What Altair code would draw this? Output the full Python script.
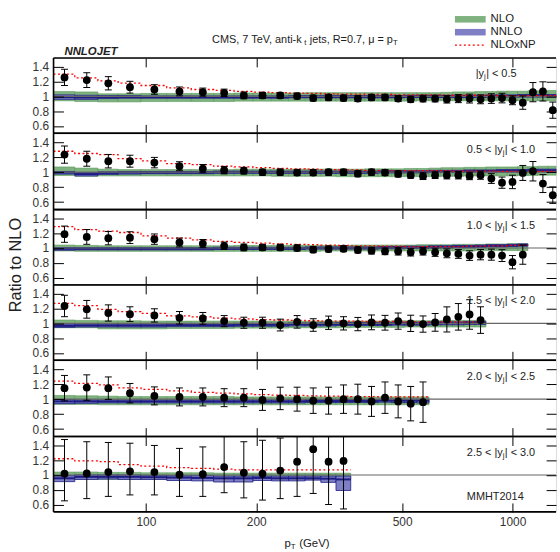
import altair as alt
import pandas as pd

# ---------------- data ----------------
EDGES = [56, 64, 74, 84, 97, 114, 133, 153, 174, 196, 220, 245, 272, 300, 330, 362, 395,
         430, 468, 507, 548, 592, 638, 686, 737, 790, 846, 905, 967, 1032, 1101, 1172,
         1248, 1327]

RAP = [("", "0.5"), ("0.5", "1.0"), ("1.0", "1.5"), ("1.5", "2.0"), ("2.0", "2.5"), ("2.5", "3.0")]

DATA1 = [1.257, 1.22, 1.177, 1.124, 1.093, 1.067, 1.057, 1.048, 1.013, 1.013,
         1.013, 1.004, 0.977, 0.986, 0.977, 0.97, 0.986, 0.986, 0.97, 0.96,
         0.97, 0.97, 0.96, 0.97, 0.97, 0.96, 0.97, 0.977, 0.947, 0.915,
         1.057, 1.067, 0.813]
ERR1 = [0.11, 0.10, 0.09, 0.08, 0.065, 0.06, 0.055, 0.05, 0.045, 0.04,
        0.04, 0.04, 0.04, 0.04, 0.04, 0.04, 0.04, 0.04, 0.04, 0.04,
        0.045, 0.045, 0.05, 0.055, 0.06, 0.06, 0.065, 0.065, 0.06, 0.09,
        0.13, 0.13, 0.11]
NP1 = [1.30, 1.25, 1.21, 1.18, 1.147, 1.115, 1.093, 1.08, 1.067, 1.057,
       1.05, 1.045, 1.04, 1.035, 1.03, 1.03, 1.025, 1.025, 1.02, 1.02,
       1.02, 1.02, 1.015, 1.015, 1.015, 1.015, 1.015, 1.01, 1.01, 1.01,
       1.01, 1.01, 1.01]
NLO_LO1 = [0.94, 0.93, 0.925, 0.925, 0.93, 0.93, 0.93, 0.93, 0.935, 0.935,
           0.935, 0.935, 0.935, 0.935, 0.935, 0.935, 0.935, 0.935, 0.935, 0.935,
           0.94, 0.94, 0.94, 0.94, 0.94, 0.94, 0.94, 0.94, 0.94, 0.94,
           0.94, 0.94, 0.94]
NLO_HI1 = [1.065, 1.06, 1.035, 1.035, 1.04, 1.04, 1.04, 1.04, 1.045, 1.045,
           1.045, 1.045, 1.05, 1.05, 1.05, 1.05, 1.05, 1.05, 1.05, 1.05,
           1.05, 1.05, 1.055, 1.06, 1.06, 1.065, 1.065, 1.07, 1.07, 1.07,
           1.075, 1.075, 1.08]
NNLO_C1 = [0.99, 0.985, 0.99, 0.99, 0.99, 0.99, 0.99, 0.99, 0.99, 0.99,
           0.99, 0.995, 0.995, 0.995, 0.995, 0.995, 0.995, 0.995, 0.995, 1.0,
           1.0, 1.0, 1.0, 1.0, 1.0, 1.0, 1.005, 1.005, 1.005, 1.01,
           1.01, 1.01, 1.01]
NNLO_LO1 = [0.96, 0.96, 0.97, 0.975, 0.975, 0.975, 0.975, 0.975, 0.975, 0.975,
            0.975, 0.98, 0.98, 0.98, 0.98, 0.98, 0.98, 0.98, 0.98, 0.985,
            0.985, 0.985, 0.985, 0.985, 0.985, 0.985, 0.99, 0.99, 0.99, 0.99,
            0.99, 0.99, 0.99]
NNLO_HI1 = [1.02, 1.015, 1.01, 1.01, 1.005, 1.005, 1.005, 1.005, 1.005, 1.005,
            1.005, 1.01, 1.01, 1.01, 1.01, 1.01, 1.01, 1.01, 1.01, 1.015,
            1.015, 1.015, 1.015, 1.015, 1.015, 1.015, 1.02, 1.02, 1.02, 1.025,
            1.025, 1.025, 1.025]

DATA2 = [1.235, 1.18, 1.147, 1.147, 1.128, 1.08, 1.048, 1.027, 1.02, 1.0,
         1.0, 0.995, 0.995, 1.0, 1.0, 0.98, 1.0, 0.995, 0.977, 0.96,
         0.947, 0.96, 0.96, 0.96, 0.95, 0.96, 0.915, 0.86, 0.87, 0.99,
         1.013, 0.848, 0.693]
ERR2 = [0.115, 0.10, 0.09, 0.08, 0.07, 0.06, 0.055, 0.05, 0.045, 0.04,
        0.04, 0.04, 0.04, 0.04, 0.04, 0.04, 0.04, 0.04, 0.04, 0.04,
        0.045, 0.045, 0.05, 0.05, 0.05, 0.055, 0.065, 0.075, 0.09, 0.10,
        0.13, 0.12, 0.11]
NP2 = [1.28, 1.25, 1.235, 1.18, 1.15, 1.115, 1.10, 1.08, 1.07, 1.06,
       1.05, 1.045, 1.04, 1.035, 1.03, 1.03, 1.025, 1.025, 1.02, 1.02,
       1.02, 1.02, 1.02, 1.015, 1.015, 1.015, 1.015, 1.01, 1.01, 1.01,
       1.01, 1.01, 1.01]
NLO_LO2 = [0.955, 0.945, 0.95, 0.95, 0.95, 0.95, 0.95, 0.95, 0.95, 0.95,
           0.945, 0.945, 0.945, 0.945, 0.94, 0.94, 0.94, 0.94, 0.94, 0.94,
           0.94, 0.94, 0.945, 0.945, 0.95, 0.95, 0.95, 0.95, 0.95, 0.955,
           0.955, 0.96, 0.96]
NLO_HI2 = [1.07, 1.055, 1.04, 1.035, 1.035, 1.035, 1.035, 1.035, 1.04, 1.04,
           1.04, 1.04, 1.04, 1.04, 1.04, 1.04, 1.045, 1.045, 1.045, 1.05,
           1.05, 1.055, 1.06, 1.06, 1.065, 1.065, 1.07, 1.07, 1.07, 1.075,
           1.075, 1.08, 1.08]
NNLO_C2 = [0.995, 0.975, 0.99, 0.995, 0.995, 0.995, 0.995, 1.0, 1.0, 1.0,
           1.0, 1.0, 1.0, 1.0, 1.0, 1.0, 1.0, 1.005, 1.005, 1.005,
           1.005, 1.01, 1.01, 1.01, 1.015, 1.015, 1.015, 1.02, 1.02, 1.02,
           1.025, 1.025, 1.025]
NNLO_LO2 = [0.975, 0.95, 0.97, 0.975, 0.98, 0.98, 0.98, 0.985, 0.985, 0.985,
            0.985, 0.985, 0.985, 0.985, 0.985, 0.985, 0.985, 0.99, 0.99, 0.99,
            0.99, 0.995, 0.995, 0.995, 1.0, 1.0, 1.0, 1.0, 1.0, 1.0,
            1.005, 1.005, 1.005]
NNLO_HI2 = [1.01, 0.995, 1.005, 1.01, 1.01, 1.01, 1.01, 1.015, 1.015, 1.015,
            1.015, 1.015, 1.015, 1.015, 1.015, 1.015, 1.015, 1.02, 1.02, 1.02,
            1.02, 1.025, 1.025, 1.025, 1.03, 1.03, 1.03, 1.035, 1.035, 1.035,
            1.04, 1.04, 1.04]

DATA3 = [1.187, 1.15, 1.133, 1.14, 1.12, 1.075, 1.06, 1.03, 1.008, 1.008,
         1.008, 1.0, 0.977, 0.986, 0.99, 0.973, 0.964, 0.955, 0.955, 0.942,
         0.955, 0.942, 0.928, 0.92, 0.897, 0.91, 0.91, 0.897, 0.808, 0.91]
ERR3 = [0.11, 0.10, 0.09, 0.08, 0.07, 0.06, 0.055, 0.05, 0.045, 0.04,
        0.04, 0.04, 0.04, 0.04, 0.04, 0.04, 0.045, 0.045, 0.05, 0.05,
        0.05, 0.055, 0.06, 0.06, 0.065, 0.07, 0.075, 0.08, 0.09, 0.13]
NP3 = [1.29, 1.25, 1.23, 1.21, 1.165, 1.135, 1.11, 1.09, 1.075, 1.065,
       1.055, 1.05, 1.045, 1.04, 1.035, 1.03, 1.03, 1.025, 1.025, 1.02,
       1.02, 1.02, 1.02, 1.02, 1.025, 1.025, 1.03, 1.03, 1.035, 1.04]
NLO_LO3 = [0.96, 0.955, 0.955, 0.955, 0.955, 0.955, 0.955, 0.955, 0.955, 0.955,
           0.955, 0.955, 0.955, 0.96, 0.96, 0.96, 0.96, 0.96, 0.96, 0.96,
           0.96, 0.96, 0.96, 0.96, 0.96, 0.965, 0.965, 0.965, 0.965, 0.965]
NLO_HI3 = [1.04, 1.035, 1.03, 1.03, 1.03, 1.03, 1.03, 1.03, 1.035, 1.035,
           1.035, 1.035, 1.035, 1.035, 1.035, 1.04, 1.04, 1.04, 1.04, 1.04,
           1.045, 1.045, 1.045, 1.05, 1.05, 1.05, 1.055, 1.055, 1.06, 1.06]
NNLO_C3 = [0.99, 0.99, 0.99, 0.99, 0.99, 0.99, 0.99, 0.995, 0.995, 0.995,
           0.995, 0.995, 1.0, 1.0, 1.0, 1.0, 1.0, 1.005, 1.005, 1.01,
           1.01, 1.015, 1.015, 1.02, 1.02, 1.025, 1.03, 1.03, 1.035, 1.04]
NNLO_LO3 = [0.97, 0.975, 0.975, 0.975, 0.975, 0.975, 0.975, 0.98, 0.98, 0.98,
            0.98, 0.98, 0.985, 0.985, 0.985, 0.985, 0.985, 0.99, 0.99, 0.995,
            0.995, 1.0, 1.0, 1.005, 1.005, 1.01, 1.015, 1.015, 1.02, 1.025]
NNLO_HI3 = [1.005, 1.005, 1.005, 1.005, 1.005, 1.005, 1.005, 1.01, 1.01, 1.01,
            1.01, 1.01, 1.015, 1.015, 1.015, 1.015, 1.015, 1.02, 1.02, 1.025,
            1.025, 1.03, 1.03, 1.035, 1.035, 1.04, 1.045, 1.045, 1.05, 1.055]

DATA4 = [1.235, 1.19, 1.14, 1.124, 1.107, 1.075, 1.067, 1.03, 1.008, 1.008,
         0.977, 1.02, 0.977, 1.008, 1.0, 0.99, 1.013, 1.008, 1.03, 1.0,
         0.99, 1.013, 1.053, 1.088, 1.12, 1.044]
ERR4 = [0.145, 0.12, 0.11, 0.10, 0.09, 0.085, 0.08, 0.075, 0.075, 0.075,
        0.08, 0.085, 0.085, 0.09, 0.09, 0.09, 0.10, 0.10, 0.11, 0.11,
        0.11, 0.12, 0.17, 0.18, 0.20, 0.18]
NP4 = [1.27, 1.24, 1.19, 1.16, 1.135, 1.10, 1.087, 1.07, 1.06, 1.05,
       1.045, 1.04, 1.035, 1.03, 1.03, 1.03, 1.025, 1.025, 1.025, 1.02,
       1.02, 1.02, 1.02, 1.02, 1.02, 1.02]
NLO_LO4 = [0.94, 0.94, 0.925, 0.925, 0.925, 0.93, 0.93, 0.93, 0.935, 0.935,
           0.935, 0.94, 0.94, 0.94, 0.94, 0.945, 0.945, 0.945, 0.945, 0.95,
           0.95, 0.95, 0.95, 0.95, 0.95, 0.95]
NLO_HI4 = [1.045, 1.04, 1.035, 1.035, 1.03, 1.03, 1.03, 1.03, 1.03, 1.03,
           1.03, 1.03, 1.03, 1.03, 1.03, 1.03, 1.03, 1.03, 1.035, 1.035,
           1.035, 1.035, 1.04, 1.04, 1.04, 1.04]
NNLO_C4 = [0.965, 0.97, 0.97, 0.97, 0.97, 0.975, 0.975, 0.975, 0.98, 0.98,
           0.98, 0.985, 0.985, 0.985, 0.99, 0.99, 0.99, 0.99, 0.995, 0.995,
           0.995, 1.0, 1.0, 1.0, 1.005, 1.005]
NNLO_LO4 = [0.945, 0.95, 0.95, 0.95, 0.95, 0.955, 0.955, 0.955, 0.96, 0.96,
            0.96, 0.965, 0.965, 0.965, 0.97, 0.97, 0.97, 0.97, 0.975, 0.975,
            0.975, 0.98, 0.98, 0.98, 0.985, 0.985]
NNLO_HI4 = [0.99, 0.99, 0.99, 0.99, 0.99, 0.995, 0.995, 0.995, 1.0, 1.0,
            1.0, 1.005, 1.005, 1.005, 1.01, 1.01, 1.01, 1.01, 1.015, 1.015,
            1.015, 1.02, 1.02, 1.02, 1.025, 1.025]

DATA5 = [1.147, 1.155, 1.147, 1.08, 1.044, 1.03, 1.03, 1.02, 1.02, 0.99,
         1.01, 1.0, 0.98, 0.98, 1.0, 1.0, 0.97, 1.02, 0.97, 0.94,
         0.96]
ERR5 = [0.17, 0.17, 0.15, 0.13, 0.12, 0.12, 0.12, 0.12, 0.12, 0.14,
        0.15, 0.16, 0.17, 0.18, 0.19, 0.20, 0.20, 0.21, 0.22, 0.23,
        0.27]
NP5 = [1.24, 1.21, 1.19, 1.15, 1.13, 1.11, 1.09, 1.08, 1.07, 1.06,
       1.055, 1.05, 1.045, 1.04, 1.04, 1.035, 1.035, 1.03, 1.03, 1.03,
       1.03]
NLO_LO5 = [0.93, 0.93, 0.925, 0.925, 0.925, 0.925, 0.925, 0.925, 0.925, 0.925,
           0.925, 0.925, 0.925, 0.925, 0.925, 0.925, 0.925, 0.925, 0.925, 0.925,
           0.925]
NLO_HI5 = [1.05, 1.045, 1.04, 1.035, 1.035, 1.035, 1.035, 1.035, 1.03, 1.03,
           1.03, 1.03, 1.03, 1.03, 1.03, 1.03, 1.03, 1.03, 1.03, 1.03,
           1.03]
NNLO_C5 = [0.97, 0.97, 0.97, 0.97, 0.97, 0.97, 0.97, 0.97, 0.97, 0.97,
           0.97, 0.97, 0.975, 0.975, 0.975, 0.975, 0.975, 0.98, 0.98, 0.98,
           0.98]
NNLO_LO5 = [0.94, 0.945, 0.95, 0.95, 0.95, 0.95, 0.95, 0.95, 0.95, 0.95,
            0.95, 0.95, 0.955, 0.955, 0.955, 0.955, 0.955, 0.96, 0.955, 0.955,
            0.95]
NNLO_HI5 = [0.995, 0.99, 0.99, 0.99, 0.99, 0.99, 0.99, 0.99, 0.99, 0.99,
            0.99, 0.99, 0.995, 0.995, 0.995, 0.995, 0.995, 1.0, 1.0, 1.0,
            1.0]

DATA6 = [1.017, 1.02, 1.04, 1.05, 1.04, 1.004, 1.01, 1.107, 1.03, 1.017,
         1.06, 1.18, 1.35, 1.18, 1.19]
EHI6 = [1.48, 1.45, 1.44, 1.43, 1.40, 1.36, 1.38, 1.52, 1.45, 1.47,
        1.50, 1.60, 1.60, 1.60, 1.60]
ELO6 = [0.65, 0.68, 0.71, 0.73, 0.73, 0.71, 0.71, 0.76, 0.69, 0.66,
        0.68, 0.71, 0.75, 0.60, 0.54]
NP6 = [1.22, 1.19, 1.18, 1.14, 1.12, 1.10, 1.09, 1.08, 1.07, 1.07,
       1.07, 1.07, 1.07, 1.07, 1.07]
NLO_LO6 = [0.94, 0.94, 0.94, 0.94, 0.94, 0.935, 0.935, 0.935, 0.935, 0.94,
           0.94, 0.94, 0.94, 0.94, 0.94]
NLO_HI6 = [1.04, 1.04, 1.035, 1.035, 1.03, 1.03, 1.03, 1.025, 1.025, 1.025,
           1.025, 1.025, 1.025, 1.025, 1.025]
NNLO_C6 = [0.955, 0.975, 0.975, 0.975, 0.97, 0.965, 0.96, 0.955, 0.955, 0.96,
           0.955, 0.955, 0.955, 0.95, 0.94]
NNLO_LO6 = [0.91, 0.94, 0.945, 0.94, 0.94, 0.925, 0.92, 0.905, 0.905, 0.925,
            0.92, 0.92, 0.93, 0.90, 0.79]
NNLO_HI6 = [0.99, 1.0, 1.0, 1.0, 0.995, 0.99, 0.99, 0.985, 0.985, 0.985,
            0.985, 0.985, 0.985, 0.985, 0.985]

DATA = [DATA1, DATA2, DATA3, DATA4, DATA5, DATA6]
ERR = [ERR1, ERR2, ERR3, ERR4, ERR5]
NP = [NP1, NP2, NP3, NP4, NP5, NP6]
NLO_LO = [NLO_LO1, NLO_LO2, NLO_LO3, NLO_LO4, NLO_LO5, NLO_LO6]
NLO_HI = [NLO_HI1, NLO_HI2, NLO_HI3, NLO_HI4, NLO_HI5, NLO_HI6]
NNLO_C = [NNLO_C1, NNLO_C2, NNLO_C3, NNLO_C4, NNLO_C5, NNLO_C6]
NNLO_LO = [NNLO_LO1, NNLO_LO2, NNLO_LO3, NNLO_LO4, NNLO_LO5, NNLO_LO6]
NNLO_HI = [NNLO_HI1, NNLO_HI2, NNLO_HI3, NNLO_HI4, NNLO_HI5, NNLO_HI6]

X_TICKS = [100, 200, 500, 1000]
Y_TICKS = [0.6, 0.8, 1.0, 1.2, 1.4]

# ---------------- style / layout ----------------
W = 507
HEIGHTS = [76, 77, 76, 76, 77, 76]
XDOM = [56, 1314]
YDOM = [0.5, 1.52]
GREEN = "#7fb27f"
GREEN_EDGE = "#5c995c"
BLUE = "#7f7fc6"
NAVY = "#1c1c82"
TXT = "#222222"
FONT = "Liberation Sans"

ONE = pd.DataFrame({"k": [0]})

AW = {' ': 278, ',': 278, '.': 278, '-': 333, '<': 584, '=': 584, '|': 260, '(': 333, ')': 333,
      'C': 722, 'M': 833, 'S': 667, 'T': 611, 'V': 667, 'R': 722, 'G': 778, 'N': 722, 'L': 556,
      'O': 778, 'P': 667, 'a': 556, 'e': 556, 'i': 222, 'j': 222, 'k': 500, 'n': 556, 'p': 556,
      's': 500, 't': 278, 'x': 500, 'y': 500, 'μ': 576}


def tw(s, size):
    return sum(AW.get(c, 556) for c in s) * size / 1000.0


def txt(s, x, y, size=11, **kw):
    return alt.Chart(ONE).mark_text(text=s, align="left", baseline="middle", fontSize=size,
                                    color=TXT, **kw).encode(x=alt.value(x), y=alt.value(y))


def sub_text(pieces, x0, y, size, subsize, drop):
    """pieces: list of (string, is_subscript)."""
    out = []
    x = x0
    for s, is_sub in pieces:
        lead = len(s) - len(s.lstrip(' '))
        xs = x + tw(' ' * lead, size)
        core = s.strip(' ')
        if is_sub:
            out.append(txt(core, xs, y + drop, subsize))
            x = xs + tw(core, subsize) + 0.4
        else:
            out.append(txt(core, xs, y, size))
            x = xs + tw(s.lstrip(' '), size)
    return out


xs_ = alt.Scale(type="log", domain=XDOM, nice=False, clamp=True)
ys_ = alt.Scale(domain=YDOM, nice=False, zero=False, clamp=True)


def make_panel(i):
    H = HEIGHTS[i]
    n = len(DATA[i])
    lo = EDGES[:n]
    hi = EDGES[1:n + 1]
    if i < 5:
        elo = [v - e for v, e in zip(DATA[i], ERR[i])]
        ehi = [v + e for v, e in zip(DATA[i], ERR[i])]
    else:
        elo, ehi = ELO6, EHI6
    df = pd.DataFrame({
        "lo": lo, "hi": hi, "xc": [(a + b) / 2 for a, b in zip(lo, hi)],
        "val": DATA[i], "elo": elo, "ehi": ehi,
        "nlo_lo": NLO_LO[i], "nlo_hi": NLO_HI[i],
        "nnlo_c": NNLO_C[i], "nnlo_lo": NNLO_LO[i], "nnlo_hi": NNLO_HI[i],
    })
    step = pd.DataFrame({"x": EDGES[:n + 1], "np": NP[i] + [NP[i][-1]]})

    ax_b = alt.Axis(orient="bottom", offset=-9, tickSize=9, values=X_TICKS, format="d",
                    labels=(i == 5), domain=False, grid=False, tickColor="black", tickWidth=1,
                    labelFontSize=12, labelColor="#333333", labelPadding=5, labelFont=FONT,
                    zindex=1)
    ax_t = alt.Axis(orient="top", offset=-9, tickSize=9, values=X_TICKS, labels=False,
                    domain=False, grid=False, tickColor="black", tickWidth=1, zindex=1)
    ax_l = alt.Axis(orient="left", offset=-10, tickSize=10, values=Y_TICKS, format="~g",
                    domain=False, grid=False, tickColor="black", tickWidth=1,
                    labelFontSize=12, labelColor="#333333", labelPadding=5, labelFont=FONT,
                    zindex=1)
    ax_r = alt.Axis(orient="right", offset=-10, tickSize=10, values=Y_TICKS, labels=False,
                    domain=False, grid=False, tickColor="black", tickWidth=1, zindex=1)

    base = alt.Chart(df)
    green = base.mark_rect(fill=GREEN, stroke=GREEN_EDGE, strokeWidth=0.6).encode(
        x=alt.X("lo:Q", scale=xs_, axis=ax_b, title=None), x2="hi:Q",
        y=alt.Y("nlo_lo:Q", scale=ys_, axis=ax_l, title=None), y2="nlo_hi:Q")
    blue = base.mark_rect(fill=BLUE, stroke=NAVY, strokeWidth=0.8).encode(
        x=alt.X("lo:Q", scale=xs_, axis=None), x2="hi:Q",
        y=alt.Y("nnlo_lo:Q", scale=ys_, axis=None), y2="nnlo_hi:Q")
    navy = base.mark_rule(color=NAVY, strokeWidth=2).encode(
        x=alt.X("lo:Q", scale=xs_, axis=None), x2="hi:Q",
        y=alt.Y("nnlo_c:Q", scale=ys_, axis=None))
    ref = alt.Chart(ONE).mark_rule(color="#666666", strokeWidth=1.2).encode(
        y=alt.datum(1.0, scale=ys_, axis=None))
    red = alt.Chart(step).mark_line(interpolate="step-after", color="#ff0000", strokeWidth=1.3,
                                    strokeDash=[2, 2.5]).encode(
        x=alt.X("x:Q", scale=xs_, axis=None), y=alt.Y("np:Q", scale=ys_, axis=None))
    ebar = base.mark_rule(color="black", strokeWidth=1).encode(
        x=alt.X("xc:Q", scale=xs_, axis=None),
        y=alt.Y("elo:Q", scale=ys_, axis=None), y2="ehi:Q")
    cap_hi = base.mark_rule(color="black", strokeWidth=1, xOffset=-3.5, x2Offset=3.5).encode(
        x=alt.X("xc:Q", scale=xs_, axis=None), x2="xc:Q",
        y=alt.Y("ehi:Q", scale=ys_, axis=None))
    cap_lo = base.mark_rule(color="black", strokeWidth=1, xOffset=-3.5, x2Offset=3.5).encode(
        x=alt.X("xc:Q", scale=xs_, axis=None), x2="xc:Q",
        y=alt.Y("elo:Q", scale=ys_, axis=None))
    pts = base.mark_circle(size=62, color="black", opacity=1).encode(
        x=alt.X("xc:Q", scale=xs_, axis=ax_t, title=None),
        y=alt.Y("val:Q", scale=ys_, axis=ax_r, title=None))

    frame = [
        alt.Chart(ONE).mark_rule(color="black", strokeWidth=1.6).encode(
            x=alt.value(0), x2=alt.value(W), y=alt.value(0)),
        alt.Chart(ONE).mark_rule(color="black", strokeWidth=1.6).encode(
            x=alt.value(0), x2=alt.value(W), y=alt.value(H)),
        alt.Chart(ONE).mark_rule(color="black", strokeWidth=1.6).encode(
            x=alt.value(0), y=alt.value(0), y2=alt.value(H)),
    ]

    a, b = RAP[i]
    if a:
        lab = sub_text([(a + " < |y", False), ("j", True), ("| < " + b, False)],
                       417, 16.5, 11, 7.7, 3)
    else:
        lab = sub_text([("|y", False), ("j", True), ("| < " + b, False)],
                       426, 16.5, 11, 7.7, 3)

    layers = [green, blue, navy, ref, red, ebar, cap_hi, cap_lo, pts] + frame + lab

    if i == 0:
        layers.append(alt.Chart(ONE).mark_rule(strokeOpacity=0, strokeWidth=0).encode(
            x=alt.value(-53), x2=alt.value(0), y=alt.value(-55), y2=alt.value(0)))
        layers += sub_text([("CMS, 7 TeV, anti-k", False), ("t", True),
                            (" jets, R=0.7, μ = p", False), ("T", True)],
                           160, -18, 11, 7.7, 3)
        layers.append(txt("NNLOJET", 11, -6, 11.5, fontWeight="bold", fontStyle="italic"))
        layers.append(alt.Chart(ONE).mark_rect(fill=GREEN).encode(
            x=alt.value(405), x2=alt.value(436), y=alt.value(-42.3), y2=alt.value(-35.7)))
        layers.append(alt.Chart(ONE).mark_rect(fill=BLUE).encode(
            x=alt.value(405), x2=alt.value(436), y=alt.value(-29.3), y2=alt.value(-22.7)))
        layers.append(alt.Chart(ONE).mark_rule(color="#ff0000", strokeWidth=1.3,
                                               strokeDash=[2, 2.5]).encode(
            x=alt.value(405), x2=alt.value(436), y=alt.value(-13)))
        layers.append(txt("NLO", 441, -39, 11.5))
        layers.append(txt("NNLO", 441, -26, 11.5))
        layers.append(txt("NLOxNP", 441, -13, 11.5))
    if i == 2:
        layers.append(alt.Chart(ONE).mark_text(text="Ratio to NLO", angle=270, align="center",
                                               baseline="middle", fontSize=16.5, color=TXT).encode(
            x=alt.value(-38), y=alt.value(56)))
    if i == 5:
        layers.append(txt("MMHT2014", 417, 61, 11))
        layers += sub_text([("p", False), ("T", True), (" (GeV)", False)],
                           233, 108.7, 11.5, 8, 3)

    return alt.layer(*layers).resolve_axis(x="independent", y="independent").properties(
        width=W, height=H)


panels = [make_panel(i) for i in range(6)]

chart = alt.vconcat(*panels, spacing=0, bounds="flush").properties(
    padding={"left": 0, "top": 0, "right": 0, "bottom": 0},
    autosize=alt.AutoSizeParams(type="pad"),
).configure_view(stroke="transparent").configure(font=FONT, background="white")

chart.save("out.html", embed_options={"renderer": "svg", "actions": False})
